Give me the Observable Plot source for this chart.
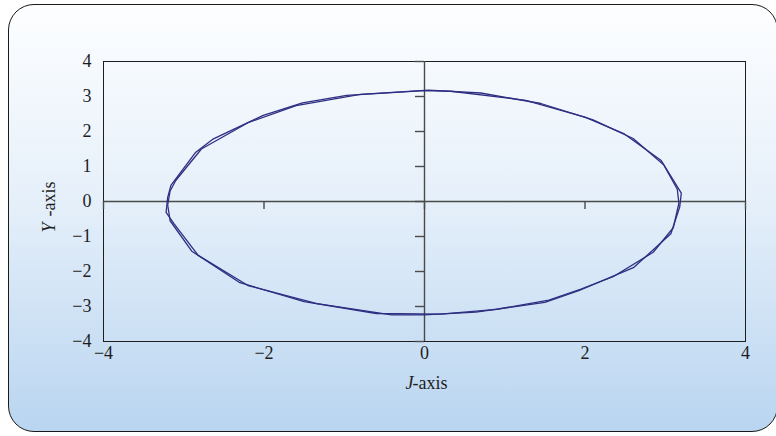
<!DOCTYPE html>
<html>
<head>
<meta charset="utf-8">
<script src="https://cdn.jsdelivr.net/npm/d3@7"></script>
<script src="https://cdn.jsdelivr.net/npm/@observablehq/plot@0.6"></script>
<style>
  html, body { margin: 0; padding: 0; width: 776px; height: 436px; overflow: hidden; background: #ffffff; }
  #panel {
    position: absolute; left: 8px; top: 4px; width: 768px; height: 426px;
    border: 1.5px solid #1a1a1a; border-radius: 26px;
    background: linear-gradient(to bottom, #fdfeff 0%, #e6f0fa 45%, #b9d5f0 100%);
  }
  #chart { position: absolute; left: 0; top: 0; }
  #chart svg text { font-family: 'Liberation Serif', 'Times New Roman', serif !important; fill: #1e1e1e; font-size: 18px !important; }
</style>
</head>
<body>
<div id="panel"></div>
<div id="chart"></div>
<script>
// Tick values for both axes
const xTicks = [-4, -2, 0, 2, 4];
const yTicks = [-4, -3, -2, -1, 0, 1, 2, 3, 4];

// First pass of the orbit (J, Y)
const orbitJ1 = [0, 0.33, 1.26, 2.0, 2.49, 2.95, 3.2, 3.18, 3.07, 2.61, 1.93, 1.5, 0.64, 0, -0.41, -1.34, -2.2, -2.82, -3.12, -3.22, -3.2, -3.16, -2.85, -2.63, -2.01, -1.52, -0.97, 0];
const orbitY1 = [3.17, 3.15, 2.89, 2.41, 1.93, 1.17, 0.24, -0.16, -0.92, -1.88, -2.54, -2.88, -3.16, -3.24, -3.24, -2.92, -2.4, -1.54, -0.64, -0.31, 0.12, 0.46, 1.41, 1.79, 2.46, 2.82, 3.03, 3.17];

// Second pass of the orbit (J, Y)
const orbitJ2 = [0.05, 0.7, 1.45, 2.1, 2.6, 2.98, 3.15, 3.17, 3.1, 2.85, 2.35, 1.95, 1.55, 0.9, 0.2, -0.6, -1.5, -2.3, -2.9, -3.17, -3.2, -3.17, -3.1, -2.78, -2.2, -1.6, -0.8, 0.05];
const orbitY2 = [3.18, 3.1, 2.8, 2.33, 1.8, 1.05, 0.35, -0.05, -0.75, -1.45, -2.15, -2.5, -2.82, -3.08, -3.22, -3.2, -2.86, -2.32, -1.42, -0.55, -0.1, 0.3, 0.6, 1.5, 2.25, 2.74, 3.06, 3.18];

const pass1 = orbitJ1.map((j, i) => ({j, y: orbitY1[i], pass: 1}));
const pass2 = orbitJ2.map((j, i) => ({j, y: orbitY2[i], pass: 2}));
const orbit = pass1.concat(pass2);

const minus = d => (d < 0 ? "\u2212" + Math.abs(d) : String(d));
const axisColor = "#4a4a4a";
const serif = "'Liberation Serif', 'Times New Roman', serif";

const chart = Plot.plot({
  width: 776,
  height: 436,
  marginLeft: 103,
  marginRight: 31,
  marginTop: 61,
  marginBottom: 95,
  style: {fontFamily: serif, fontSize: "18px", background: "transparent", color: "#1e1e1e"},
  x: {domain: [-4, 4], ticks: xTicks, tickSize: 0, tickPadding: 5, tickFormat: minus, label: null},
  y: {domain: [-4, 4], ticks: yTicks, tickSize: 0, tickPadding: 12, tickFormat: minus, label: null},
  marks: [
    Plot.frame({stroke: "#1e1e1e", strokeWidth: 1}),
    // zero axes crossing at the origin
    Plot.ruleY([0], {stroke: axisColor, strokeWidth: 1.4}),
    Plot.ruleX([0], {stroke: axisColor, strokeWidth: 1.4}),
    // tick marks hanging off the zero axes
    Plot.ruleX(xTicks, {x: d => d, y1: 0, y2: 0, insetBottom: -8, stroke: axisColor, strokeWidth: 1.4}),
    Plot.ruleY(yTicks, {y: d => d, x1: 0, x2: 0, insetLeft: -9, stroke: axisColor, strokeWidth: 1.4}),
    // orbit traces
    Plot.line(orbit, {x: "j", y: "y", z: "pass", stroke: "#2e2e82", strokeWidth: 1.3}),
    // axis titles
    Plot.text(["J"], {frameAnchor: "bottom", text: d => d, dy: 47, dx: -19, textAnchor: "start", fontStyle: "italic"}),
    Plot.text(["-axis"], {frameAnchor: "bottom", text: d => d, dy: 47, dx: -12, textAnchor: "start"}),
    Plot.text(["Y"], {frameAnchor: "left", text: d => d, dx: -54, dy: 31, rotate: -90, textAnchor: "start", fontStyle: "italic"}),
    Plot.text(["-axis"], {frameAnchor: "left", text: d => d, dx: -54, dy: 15, rotate: -90, textAnchor: "start"})
  ]
});

document.getElementById("chart").appendChild(chart);
</script>
</body>
</html>
